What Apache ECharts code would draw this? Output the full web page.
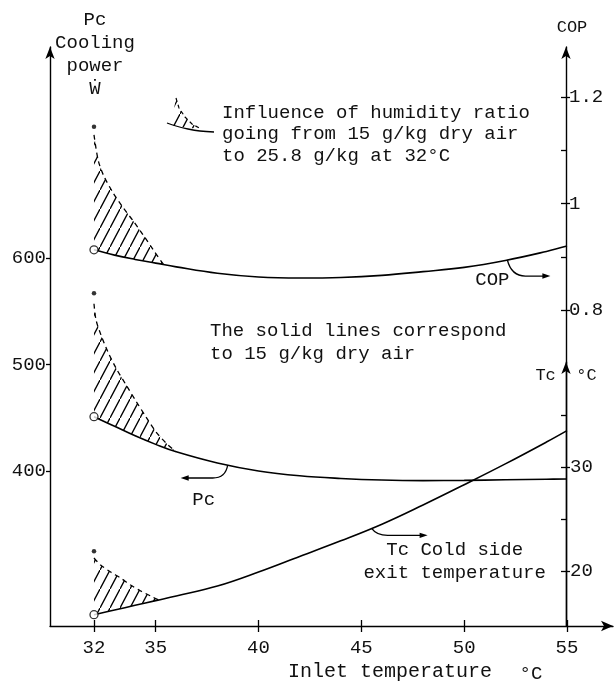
<!DOCTYPE html>
<html>
<head>
<meta charset="utf-8">
<script src="https://cdn.jsdelivr.net/npm/echarts@6/dist/echarts.min.js"></script>
<style>html,body{margin:0;padding:0;background:#fff}#c{width:615px;height:685px}</style>
</head>
<body>
<div id="c"></div>
<script>
// ---------------- data ----------------
// inlet temperature (°C) for the solid curves (15 g/kg dry air)
const T_COP = [32, 33, 34, 35, 36, 38, 40, 42, 44, 46, 48, 50, 52, 54, 55];
const COP   = [0.913, 0.903, 0.895, 0.888, 0.881, 0.869, 0.862, 0.860, 0.861, 0.865, 0.872, 0.880, 0.893, 0.910, 0.920];
const T_PC  = [32, 33, 34, 35, 36, 38, 40, 42, 44, 46, 48, 50, 52, 54, 55];
const PC    = [451, 442, 433, 425, 418, 407.5, 400, 395.5, 393, 391.5, 391, 391.2, 391.8, 392.3, 392.5];
const T_TC  = [32, 33, 34, 35, 36, 38, 40, 42, 44, 46, 48, 50, 52, 54, 55];
const TC    = [15.8, 16.25, 16.7, 17.15, 17.6, 18.55, 19.9, 21.4, 22.9, 24.5, 26.35, 28.3, 30.3, 32.4, 33.5];

// upper boundaries of hatched areas (humidity ratio 25.8 g/kg)
const T_COP_H = [32.0, 32.2, 32.45, 32.93, 33.42, 33.91, 34.39, 34.88, 35.37];
const COP_H   = [1.129, 1.082, 1.054, 1.020, 0.992, 0.967, 0.941, 0.913, 0.886];
const T_PC_H  = [32.0, 32.1, 32.34, 32.68, 33.07, 33.56, 34.04, 34.53, 35.02, 35.5, 35.99];
const PC_H    = [557, 541.8, 527.7, 511.7, 496.7, 480.8, 465.7, 450.7, 436.6, 426.3, 418];
const T_TC_H  = [32.0, 32.32, 32.81, 33.29, 33.78, 34.27, 34.75, 35.14];
const TC_H    = [21.25, 20.58, 19.9, 19.33, 18.65, 18.08, 17.6, 17.21];

// isolated 25.8 g/kg points at 32 °C
const DOT_T   = 32;
const COP_DOT = 1.144;
const PC_DOT  = 567;
const TC_DOT  = 21.9;

// axis ticks / labels
const X_TICKS     = [32, 35, 40, 45, 50, 55];
const PC_TICKS    = [400, 500, 600];
const COP_TICKS   = [0.8, 1, 1.2];
const COP_MINOR   = [0.8, 0.9, 1, 1.1, 1.2];
const TC_TICKS    = [20, 30];
const TC_MINOR    = [20, 25, 30, 35];

// annotation anchor temperatures
const COP_LABEL_T = 52.1;
const PC_LABEL_T  = 38.5;
const TC_LABEL_T  = 45.5;

// ---------------- helpers ----------------
const FONT = '"Liberation Mono", "DejaVu Sans Mono", monospace';
const INK = '#111';
const zip = (a, b) => a.map((v, i) => [v, b[i]]);
function interp(ts, vs, t) {
  for (let i = 1; i < ts.length; i++) {
    if (t <= ts[i]) { const f = (t - ts[i - 1]) / (ts[i] - ts[i - 1]); return vs[i - 1] + f * (vs[i] - vs[i - 1]); }
  }
  return vs[vs.length - 1];
}
function makeHatch() {
  const w = 10, h = 19;
  const c = document.createElement('canvas'); c.width = w; c.height = h;
  const g = c.getContext('2d');
  g.strokeStyle = '#000'; g.lineWidth = 1.3;
  [[0, 0], [-w, h], [w, -h]].forEach(([dx, dy]) => { g.beginPath(); g.moveTo(dx, h + dy); g.lineTo(w + dx, dy); g.stroke(); });
  return c;
}
const HATCH = { image: makeHatch(), repeat: 'repeat' };

const X_MIN = 29.861, X_MAX = 57.236;
const RIGHT_OFFSET = -47;

function hatchSeries(xi, yi, tH, vH, tL, vL) {
  return {
    type: 'custom', xAxisIndex: xi, yAxisIndex: yi, silent: true, z: 1,
    data: [[tH[0], vH[0]]],
    renderItem: function (params, api) {
      const tEnd = tH[tH.length - 1];
      const pts = [];
      for (let i = 0; i < tH.length; i++) pts.push(api.coord([tH[i], vH[i]]));
      for (let i = tL.length - 1; i >= 0; i--) if (tL[i] <= tEnd) pts.push(api.coord([tL[i], vL[i]]));
      return { type: 'polygon', shape: { points: pts }, style: { fill: HATCH, stroke: null } };
    }
  };
}
function lineSeries(xi, yi, ts, vs, dashed) {
  return {
    type: 'line', xAxisIndex: xi, yAxisIndex: yi, data: zip(ts, vs),
    smooth: dashed ? 0.3 : 0.4, symbol: 'none', silent: true, z: 3,
    lineStyle: { color: '#000', width: dashed ? 1.3 : 1.6, type: dashed ? [5, 4] : 'solid' }
  };
}
function markerSeries(xi, yi, ts, vs, dotValue) {
  return {
    type: 'scatter', xAxisIndex: xi, yAxisIndex: yi, silent: true, z: 4,
    data: [
      { value: [ts[0], vs[0]], symbolSize: 8, itemStyle: { color: '#fff', borderColor: '#000', borderWidth: 1.3 } },
      { value: [DOT_T, dotValue], symbolSize: 4.5, itemStyle: { color: '#000', borderWidth: 0 } }
    ]
  };
}
function leaderSeries(xi, yi, ts, vs, tA, parts) {
  return {
    type: 'custom', xAxisIndex: xi, yAxisIndex: yi, silent: true, z: 5,
    data: [[tA, interp(ts, vs, tA)]],
    renderItem: function (params, api) {
      const c = api.coord([api.value(0), api.value(1)]);
      return { type: 'group', x: c[0], y: c[1], children: parts };
    }
  };
}
const txt = (x, y, text, extra) => ({
  type: 'text', x: x, y: y,
  style: Object.assign({ text: text, fontSize: 19, fontFamily: FONT, fill: INK, align: 'center', verticalAlign: 'middle' }, extra || {})
});
const stroke = { stroke: '#000', lineWidth: 1.3, fill: null };

const axisLineStyle = { color: '#000', width: 1.4 };
const tickStyle = { color: '#000', width: 1.3 };
const labelStyle = { fontSize: 19, fontFamily: FONT, color: INK };

const option = {
  animation: false,
  backgroundColor: '#fff',
  grid: [
    { left: 50, right: 2, top: 47, bottom: 59, containLabel: false, outerBoundsMode: 'none' },
    { left: 50, right: 2, top: 362, bottom: 59, containLabel: false, outerBoundsMode: 'none' }
  ],
  xAxis: [
    { type: 'value', gridIndex: 0, position: 'bottom', min: X_MIN, max: X_MAX,
      axisLine: { show: true, onZero: false, symbol: ['none', 'arrow'], symbolSize: [8, 12], lineStyle: axisLineStyle },
      axisTick: { show: true, inside: false, length: 6, customValues: X_TICKS, lineStyle: tickStyle },
      axisLabel: Object.assign({ show: true, customValues: X_TICKS, margin: 12 }, labelStyle),
      splitLine: { show: false } },
    { type: 'value', gridIndex: 1, position: 'bottom', min: X_MIN, max: X_MAX, show: false },
    { type: 'value', gridIndex: 0, position: 'bottom', min: X_MIN, max: X_MAX,
      axisLine: { show: false, onZero: false },
      axisTick: { show: true, inside: true, length: 6, customValues: X_TICKS, lineStyle: tickStyle },
      axisLabel: { show: false }, splitLine: { show: false } }
  ],
  yAxis: [
    { type: 'value', gridIndex: 0, position: 'left', min: 254.46, max: 798.12,
      axisLine: { show: true, onZero: false, symbol: ['none', 'arrow'], symbolSize: [7, 12], lineStyle: axisLineStyle },
      axisTick: { show: true, inside: false, length: 4, customValues: PC_TICKS, lineStyle: tickStyle },
      axisLabel: Object.assign({ show: true, customValues: PC_TICKS, margin: 4 }, labelStyle),
      splitLine: { show: false } },
    { type: 'value', gridIndex: 0, position: 'right', offset: RIGHT_OFFSET, min: 0.20657, max: 1.2939,
      name: 'COP', nameLocation: 'end', nameGap: 20,
      nameTextStyle: { fontSize: 17, fontFamily: FONT, color: INK, align: 'center', verticalAlign: 'middle', padding: [0, 0, 0, 12] },
      axisLine: { show: true, onZero: false, symbol: ['none', 'arrow'], symbolSize: [7, 12], lineStyle: axisLineStyle },
      axisTick: { show: true, inside: false, length: 4, customValues: COP_TICKS, lineStyle: tickStyle },
      axisLabel: Object.assign({ show: true, customValues: COP_TICKS, margin: 3 }, labelStyle),
      splitLine: { show: false } },
    { type: 'value', gridIndex: 0, position: 'right', offset: RIGHT_OFFSET, min: 0.20657, max: 1.2939,
      axisLine: { show: false, onZero: false },
      axisTick: { show: true, inside: true, length: 5, customValues: COP_MINOR, lineStyle: tickStyle },
      axisLabel: { show: false }, splitLine: { show: false } },
    { type: 'value', gridIndex: 1, position: 'right', offset: RIGHT_OFFSET, min: 14.7115, max: 40.096,
      name: 'Tc  °C', nameLocation: 'end', nameGap: -13,
      nameTextStyle: { fontSize: 17, fontFamily: FONT, color: INK, align: 'center', verticalAlign: 'middle' },
      axisLine: { show: true, onZero: false, symbol: ['none', 'arrow'], symbolSize: [7, 12], lineStyle: axisLineStyle },
      axisTick: { show: true, inside: false, length: 4, customValues: TC_TICKS, lineStyle: tickStyle },
      axisLabel: Object.assign({ show: true, customValues: TC_TICKS, margin: 4 }, labelStyle),
      splitLine: { show: false } },
    { type: 'value', gridIndex: 1, position: 'right', offset: RIGHT_OFFSET, min: 14.7115, max: 40.096,
      axisLine: { show: false, onZero: false },
      axisTick: { show: true, inside: true, length: 5, customValues: TC_MINOR, lineStyle: tickStyle },
      axisLabel: { show: false }, splitLine: { show: false } }
  ],
  series: [
    hatchSeries(0, 1, T_COP_H, COP_H, T_COP, COP),
    hatchSeries(0, 0, T_PC_H, PC_H, T_PC, PC),
    hatchSeries(1, 3, T_TC_H, TC_H, T_TC, TC),
    lineSeries(0, 1, T_COP, COP, false),
    lineSeries(0, 0, T_PC, PC, false),
    lineSeries(1, 3, T_TC, TC, false),
    lineSeries(0, 1, T_COP_H, COP_H, true),
    lineSeries(0, 0, T_PC_H, PC_H, true),
    lineSeries(1, 3, T_TC_H, TC_H, true),
    markerSeries(0, 1, T_COP, COP, COP_DOT),
    markerSeries(0, 0, T_PC, PC, PC_DOT),
    markerSeries(1, 3, T_TC, TC, TC_DOT),
    leaderSeries(0, 1, T_COP, COP, COP_LABEL_T, [
      { type: 'path', shape: { pathData: 'M0,0 Q4,16 18,16 L38,16' }, style: stroke },
      { type: 'polygon', shape: { points: [[43, 16], [35, 13.3], [35, 18.7]] }, style: { fill: '#000' } },
      txt(-15, 20, 'COP')
    ]),
    leaderSeries(0, 0, T_PC, PC, PC_LABEL_T, [
      { type: 'path', shape: { pathData: 'M0,0 Q-2,13 -15,13 L-42,13' }, style: stroke },
      { type: 'polygon', shape: { points: [[-47, 13], [-39, 10.3], [-39, 15.7]] }, style: { fill: '#000' } },
      txt(-24, 35, 'Pc')
    ]),
    leaderSeries(1, 3, T_TC, TC, TC_LABEL_T, [
      { type: 'path', shape: { pathData: 'M0,0 Q5,7 16,7 L51,7' }, style: stroke },
      { type: 'polygon', shape: { points: [[56, 7], [48, 4.3], [48, 9.7]] }, style: { fill: '#000' } },
      txt(83, 33.5, 'Tc Cold side\nexit temperature', { lineHeight: 23 })
    ])
  ],
  graphic: [
    { type: 'text', x: 95, y: 8.5, silent: true,
      style: { text: 'Pc\nCooling\npower\nẆ', fontSize: 19, fontFamily: FONT, fill: INK, align: 'center', verticalAlign: 'top', lineHeight: 23 } },
    { type: 'text', x: 222, y: 102, silent: true,
      style: { text: 'Influence of humidity ratio\ngoing from 15 g/kg dry air\nto 25.8 g/kg at 32°C', fontSize: 19, fontFamily: FONT, fill: INK, align: 'left', verticalAlign: 'top', lineHeight: 21.5 } },
    { type: 'text', x: 210, y: 319.5, silent: true,
      style: { text: 'The solid lines correspond\nto 15 g/kg dry air', fontSize: 19, fontFamily: FONT, fill: INK, align: 'left', verticalAlign: 'top', lineHeight: 23 } },
    { type: 'text', x: 390, y: 672, silent: true,
      style: { text: 'Inlet temperature', fontSize: 20, fontFamily: FONT, fill: INK, align: 'center', verticalAlign: 'middle' } },
    { type: 'text', x: 531, y: 674, silent: true,
      style: { text: '°C', fontSize: 19, fontFamily: FONT, fill: INK, align: 'center', verticalAlign: 'middle' } },
    { type: 'group', silent: true, children: [
      { type: 'polygon', shape: { points: [[176, 98], [179, 108], [185, 117], [192, 124], [201, 129], [190, 128], [180, 127], [171, 125]] }, style: { fill: HATCH } },
      { type: 'polyline', shape: { points: [[176, 98], [179, 108], [185, 117], [192, 124], [201, 129]] }, style: { stroke: '#000', lineWidth: 1.2, lineDash: [4, 3], fill: null } },
      { type: 'polyline', shape: { points: [[167, 123], [176, 126], [188, 129], [200, 131], [214, 132]], smooth: 0.4 }, style: { stroke: '#000', lineWidth: 1.3, fill: null } }
    ] }
  ]
};

const chart = echarts.init(document.getElementById('c'), null, { renderer: 'canvas', width: 615, height: 685 });
chart.setOption(option);
</script>
</body>
</html>
